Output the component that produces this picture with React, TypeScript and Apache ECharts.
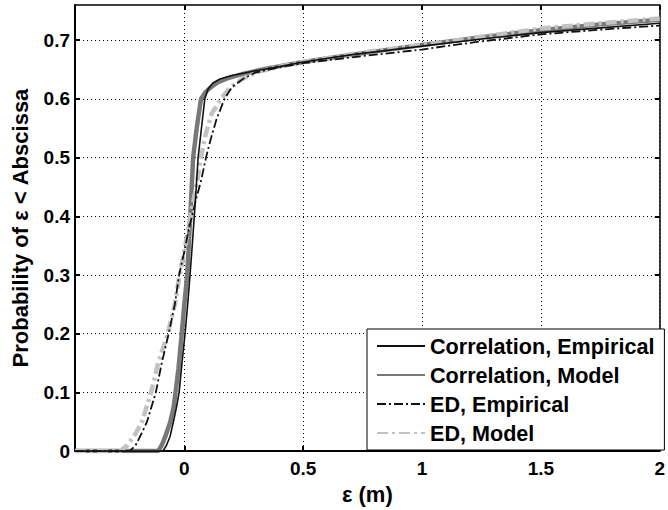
import React, { useEffect, useRef } from "react";
import * as echarts from "echarts";

const xTicks = [0, 0.5, 1, 1.5, 2];
const yTicks = [0, 0.1, 0.2, 0.3, 0.4, 0.5, 0.6, 0.7];

const seriesNames = [
  "Correlation, Empirical",
  "Correlation, Model",
  "ED, Empirical",
  "ED, Model",
];

const corrEmpX = [-0.46, -0.09, -0.075, -0.06, -0.046, -0.033, -0.022, -0.01, 0.003, 0.014, 0.024, 0.035, 0.047, 0.058, 0.072, 0.086, 0.1, 0.12, 0.15, 0.2, 0.3, 0.4, 0.5, 0.7, 1.0, 1.25, 1.5, 1.75, 2.0];
const corrEmpY = [0, 0, 0.01, 0.025, 0.05, 0.075, 0.1, 0.15, 0.2, 0.25, 0.3, 0.36, 0.43, 0.5, 0.55, 0.6, 0.617, 0.627, 0.634, 0.64, 0.648, 0.655, 0.663, 0.675, 0.69, 0.702, 0.713, 0.721, 0.729];

const corrModX = [-0.46, -0.11, -0.095, -0.08, -0.059, -0.045, -0.037, -0.025, -0.011, 0.0, 0.012, 0.025, 0.037, 0.052, 0.07, 0.09, 0.112, 0.14, 0.18, 0.25, 0.35, 0.5, 0.75, 1.0, 1.25, 1.5, 1.75, 2.0];
const corrModY = [0, 0, 0.01, 0.025, 0.05, 0.075, 0.1, 0.14, 0.2, 0.25, 0.3, 0.4, 0.5, 0.55, 0.6, 0.612, 0.62, 0.628, 0.635, 0.643, 0.652, 0.663, 0.678, 0.692, 0.705, 0.717, 0.727, 0.735];

const edEmpX = [-0.46, -0.23, -0.205, -0.18, -0.157, -0.135, -0.12, -0.095, -0.066, -0.04, -0.022, 0.0, 0.02, 0.05, 0.07, 0.091, 0.11, 0.135, 0.169, 0.2, 0.25, 0.3, 0.4, 0.5, 0.75, 1.0, 1.1, 1.25, 1.5, 1.75, 2.0];
const edEmpY = [0, 0, 0.01, 0.03, 0.05, 0.08, 0.1, 0.15, 0.2, 0.25, 0.3, 0.34, 0.38, 0.43, 0.46, 0.5, 0.53, 0.565, 0.6, 0.62, 0.635, 0.645, 0.654, 0.661, 0.673, 0.684, 0.69, 0.698, 0.71, 0.718, 0.725];

const edModX = [-0.46, -0.27, -0.24, -0.205, -0.178, -0.155, -0.14, -0.11, -0.07, -0.04, -0.02, 0.0, 0.025, 0.05, 0.07, 0.09, 0.115, 0.154, 0.19, 0.24, 0.3, 0.4, 0.5, 0.75, 1.0, 1.1, 1.25, 1.5, 1.75, 2.0];
const edModY = [0, 0, 0.01, 0.03, 0.05, 0.08, 0.1, 0.15, 0.2, 0.25, 0.3, 0.34, 0.4, 0.45, 0.5, 0.54, 0.575, 0.6, 0.618, 0.633, 0.645, 0.655, 0.663, 0.679, 0.692, 0.697, 0.706, 0.72, 0.729, 0.737];

const zip = (xs: number[], ys: number[]) => xs.map((x, i) => [x, ys[i]]);

const FONT = "Liberation Sans, Arial, sans-serif";

export default function App() {
  const ref = useRef<HTMLDivElement>(null);
  useEffect(() => {
    if (!ref.current) return;
    const chart = echarts.init(ref.current, undefined, { renderer: "svg" });
    const gridLine = { show: true, lineStyle: { color: "#000", width: 1, type: [1, 3] as any } };
    const labelStyle = { fontFamily: FONT, fontWeight: "bold" as const, fontSize: 19, color: "#000" };
    chart.setOption({
      animation: false,
      backgroundColor: "#fff",
      grid: { left: 75, right: 2, top: 5, bottom: 58, show: false },
      xAxis: [
        {
          type: "value",
          min: -0.46,
          max: 2,
          position: "bottom",
          axisLine: { show: true, onZero: false, lineStyle: { color: "#000", width: 2 } },
          axisTick: { show: true, inside: true, length: 5, customValues: xTicks, lineStyle: { color: "#000", width: 2 } },
          axisLabel: { ...labelStyle, margin: 8, customValues: xTicks },
          splitLine: gridLine,
          name: "ε (m)",
          nameLocation: "middle",
          nameGap: 26,
          nameTextStyle: { fontFamily: FONT, fontWeight: "bold", fontSize: 22, color: "#000" },
        },
        {
          type: "value",
          min: -0.46,
          max: 2,
          position: "top",
          axisLine: { show: true, onZero: false, lineStyle: { color: "#000", width: 1.5 } },
          axisTick: { show: true, inside: true, length: 5, customValues: xTicks, lineStyle: { color: "#000", width: 2 } },
          axisLabel: { show: false },
          splitLine: { show: false },
        },
      ],
      yAxis: [
        {
          type: "value",
          min: 0,
          max: 0.76,
          position: "left",
          axisLine: { show: true, onZero: false, lineStyle: { color: "#000", width: 2 } },
          axisTick: { show: true, inside: true, length: 5, customValues: yTicks, lineStyle: { color: "#000", width: 2 } },
          axisLabel: { ...labelStyle, margin: 5, customValues: yTicks },
          splitLine: gridLine,
          name: "Probability of ε < Abscissa",
          nameLocation: "middle",
          nameGap: 44,
          nameTextStyle: { fontFamily: FONT, fontWeight: "bold", fontSize: 22, color: "#000" },
        },
        {
          type: "value",
          min: 0,
          max: 0.76,
          position: "right",
          axisLine: { show: true, onZero: false, lineStyle: { color: "#000", width: 1.5 } },
          axisTick: { show: true, inside: true, length: 5, customValues: yTicks, lineStyle: { color: "#000", width: 2 } },
          axisLabel: { show: false },
          splitLine: { show: false },
        },
      ],
      legend: {
        data: seriesNames,
        orient: "vertical",
        left: 367,
        top: 329,
        backgroundColor: "#fff",
        borderColor: "#000",
        borderWidth: 1,
        borderRadius: 0,
        padding: [6, 10, 6, 9],
        itemWidth: 48,
        itemHeight: 14,
        itemGap: 7,
        itemStyle: { opacity: 0 },
        textStyle: { fontFamily: FONT, fontWeight: "bold", fontSize: 21.6, color: "#000" },
      },
      series: [
        {
          name: seriesNames[0],
          type: "line",
          symbol: "none",
          z: 4,
          data: zip(corrEmpX, corrEmpY),
          lineStyle: { color: "#111", width: 1.6 },
          itemStyle: { color: "#111" },
        },
        {
          name: seriesNames[1],
          type: "line",
          symbol: "none",
          z: 2,
          data: zip(corrModX, corrModY),
          lineStyle: { color: "#787878", width: 4.5 },
          itemStyle: { color: "#787878" },
        },
        {
          name: seriesNames[2],
          type: "line",
          symbol: "none",
          z: 5,
          data: zip(edEmpX, edEmpY),
          lineStyle: { color: "#111", width: 1.8, type: [9, 3, 2, 3] },
          itemStyle: { color: "#111" },
        },
        {
          name: seriesNames[3],
          type: "line",
          symbol: "none",
          z: 3,
          data: zip(edModX, edModY),
          lineStyle: { color: "#c2c2c2", width: 4.5, type: [11, 4, 3, 4] },
          itemStyle: { color: "#c2c2c2" },
        },
      ],
    });
    return () => chart.dispose();
  }, []);
  return (
    <div
      ref={ref}
      style={{ position: "fixed", left: 0, top: 0, width: 668, height: 510, background: "#fff" }}
    />
  );
}
